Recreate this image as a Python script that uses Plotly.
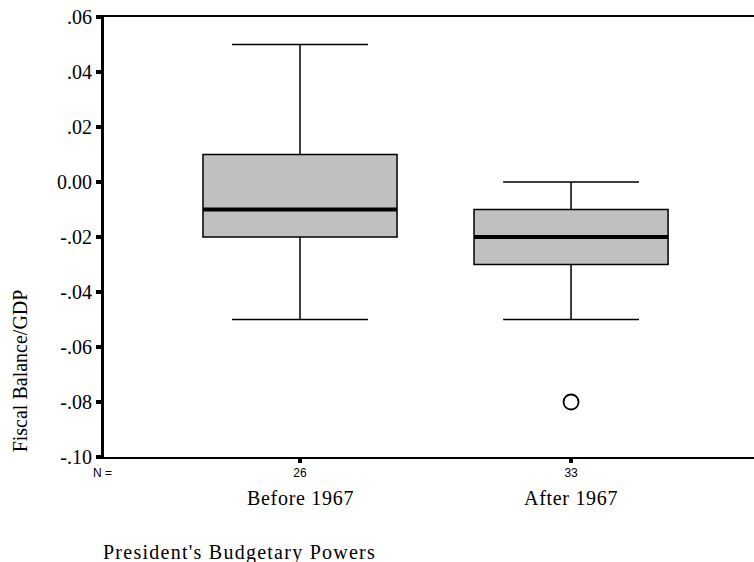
import plotly.graph_objects as go

# ---- data ----
groups = ["Before 1967", "After 1967"]
group_pos = [1, 2]
n_counts = ["26", "33"]
q1 = [-0.02, -0.03]
median = [-0.01, -0.02]
q3 = [0.01, -0.01]
lower_fence = [-0.05, -0.05]
upper_fence = [0.05, 0.0]
outlier_group = [2]
outlier_vals = [-0.08]
y_tickvals = [-0.10, -0.08, -0.06, -0.04, -0.02, 0.0, 0.02, 0.04, 0.06]
y_ticktext = ["-.10", "-.08", "-.06", "-.04", "-.02", "0.00", ".02", ".04", ".06"]

BOX_W = 0.716
SERIF = "Liberation Serif"
SANS = "Liberation Sans"

fig = go.Figure()

for i in range(len(groups)):
    fig.add_trace(go.Box(
        x=[group_pos[i]], q1=[q1[i]], median=[median[i]], q3=[q3[i]],
        lowerfence=[lower_fence[i]], upperfence=[upper_fence[i]],
        width=BOX_W, whiskerwidth=0.7,
        fillcolor="#c0c0c0", line=dict(color="black", width=1.5),
        boxpoints=False, showlegend=False, hoverinfo="skip",
    ))
    # thick median line
    fig.add_trace(go.Scatter(
        x=[group_pos[i] - BOX_W / 2, group_pos[i] + BOX_W / 2],
        y=[median[i], median[i]], mode="lines",
        line=dict(color="black", width=4), showlegend=False, hoverinfo="skip",
    ))

fig.add_trace(go.Scatter(
    x=outlier_group, y=outlier_vals, mode="markers",
    marker=dict(symbol="circle-open", size=15, color="black", line=dict(width=1.8)),
    showlegend=False, hoverinfo="skip",
))

fig.update_layout(
    width=754, height=562,
    margin=dict(l=104, r=0, t=17, b=105, autoexpand=False),
    paper_bgcolor="white", plot_bgcolor="white",
    font=dict(family=SERIF, color="black"),
    xaxis=dict(
        range=[0.2768, 2.675], tickvals=group_pos, ticktext=n_counts,
        tickfont=dict(family=SANS, size=12), ticks="outside", ticklen=4, tickwidth=4,
        tickcolor="black", showline=True, linecolor="black", linewidth=2,
        mirror=True, showgrid=False, zeroline=False, automargin=False,
    ),
    yaxis=dict(
        range=[-0.10, 0.06], tickvals=y_tickvals, ticktext=y_ticktext,
        tickfont=dict(family=SERIF, size=20), ticks="outside", ticklen=5, tickwidth=4,
        tickcolor="black", showline=True, linecolor="black", linewidth=3,
        showgrid=False, zeroline=False, automargin=False,
    ),
)

for i in range(len(groups)):
    fig.add_annotation(x=group_pos[i], xref="x", y=-0.094, yref="paper", yanchor="middle",
                       text="<span style='letter-spacing:0.7px'>" + groups[i] + "</span>",
                       showarrow=False, font=dict(family=SERIF, size=20))

fig.add_annotation(x=-0.003, xref="paper", xanchor="center", y=-0.036, yref="paper",
                   yanchor="middle", text="N =", showarrow=False,
                   font=dict(family=SANS, size=12))
fig.add_annotation(x=-0.129, xref="paper", y=0.195, yref="paper",
                   xanchor="center", yanchor="middle", textangle=-90,
                   text="Fiscal Balance/GDP", showarrow=False,
                   font=dict(family=SERIF, size=20))
fig.add_annotation(x=0.0, xref="paper", xanchor="left", xshift=-3,
                   y=-0.216, yref="paper", yanchor="middle",
                   text="<span style='letter-spacing:1.25px'>President's Budgetary Powers</span>",
                   showarrow=False, font=dict(family=SERIF, size=20))

# remove the browser's default 8px body margin so the 754x562 figure fills the window
fig.write_html("out.html", config={"displayModeBar": False},
               post_script="document.body.style.margin='0';")
